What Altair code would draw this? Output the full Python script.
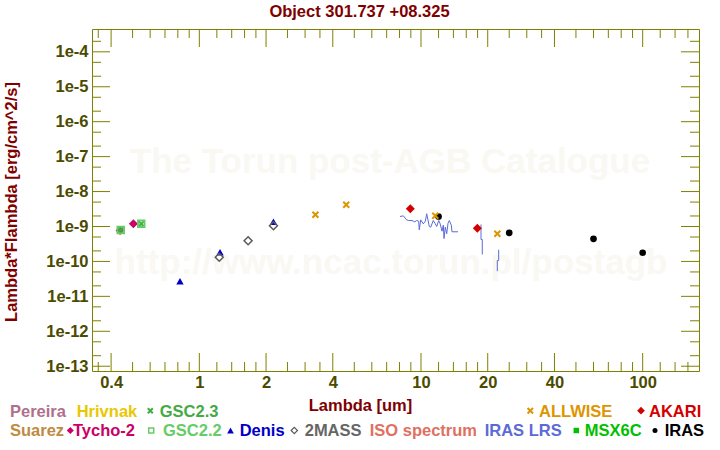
import altair as alt
import pandas as pd

# ---------------- data ----------------
tycho_lam = [0.439, 0.504]
tycho_flux = [7.7e-10, 1.19e-9]
gsc23_lam = [0.442, 0.547]
gsc23_flux = [7.9e-10, 1.19e-9]
gsc22_lam = [0.442, 0.547]
gsc22_flux = [7.9e-10, 1.19e-9]
denis_lam = [0.818, 1.24, 2.16]
denis_flux = [2.72e-11, 1.84e-10, 1.36e-9]
twomass_lam = [1.23, 1.66, 2.16]
twomass_flux = [1.32e-10, 3.89e-10, 1.05e-9]
allwise_lam = [3.34, 4.6, 11.6, 22.1]
allwise_flux = [2.16e-9, 4.18e-9, 2.02e-9, 6.18e-10]
akari_lam = [8.95, 17.95]
akari_flux = [3.21e-9, 8.95e-10]
iras_lam = [12.0, 25.0, 60.0, 100.0]
iras_flux = [1.93e-9, 6.6e-10, 4.44e-10, 1.77e-10]

lrs_lam = [8.04, 8.32, 8.62, 8.80, 9.11, 9.37, 9.56, 9.76, 9.82, 9.97, 10.24, 10.46,
           10.61, 10.75, 10.90, 11.06, 11.21, 11.36, 11.60, 11.77, 12.02, 12.18, 12.44,
           12.61, 12.70, 12.87, 13.06, 13.24, 13.42, 13.70, 13.80, 14.69,
           18.65, 18.65, 18.9, 18.9,
           22.41, 22.41, 22.09, 22.09]
lrs_flux = [1.93e-9, 2.02e-9, 1.55e-9, 1.48e-9, 1.48e-9, 1.36e-9, 1.48e-9, 1.42e-9, 8.04e-10,
            1.55e-9, 1.19e-9, 1.42e-9, 2.31e-9, 1.55e-9, 1.0e-9, 9.55e-10, 1.19e-9, 1.48e-9,
            1.19e-9, 1.0e-9, 1.48e-9, 1.24e-9, 7.33e-10, 1.09e-9, 4.53e-10, 9.55e-10, 6.18e-10,
            1.24e-9, 1.48e-9, 1.09e-9, 7.05e-10, 7.05e-10,
            1.14e-9, 4.24e-10, 4.24e-10, 1.58e-10,
            2.15e-10, 1.06e-10, 1.06e-10, 5.25e-11]
lrs_seg = [1] * 32 + [2] * 4 + [3] * 4

x_major = [0.4, 1, 2, 4, 10, 20, 40, 100]
x_minor = [0.35, 0.5, 0.6, 0.7, 0.8, 0.9, 1.2, 1.4, 1.6, 1.8, 2.5, 3, 3.5,
           5, 6, 7, 8, 9, 12, 14, 16, 18, 25, 30, 35, 50, 60, 70, 80, 90, 120, 140, 160]
y_major = [1e-4, 1e-5, 1e-6, 1e-7, 1e-8, 1e-9, 1e-10, 1e-11, 1e-12, 1e-13]
y_minor = [2e-4, 5e-5, 2e-5, 5e-6, 2e-6, 5e-7, 2e-7, 5e-8, 2e-8, 5e-9, 2e-9,
           5e-10, 2e-10, 5e-11, 2e-11, 5e-12, 2e-12, 5e-13, 2e-13]

# ---------------- style ----------------
FONT = "Liberation Sans"
FS = 16.5
OLIVE = "#808000"
LABC = "#4b4b00"
DRED = "#800000"
W, H = 607, 342
PL, PT = 92, 29
XPATH = "M-1,-1L1,1M-1,1L1,-1"

xscale = alt.Scale(type="log", domain=[0.328, 179.5], nice=False)
yscale = alt.Scale(type="log", domain=[7.3e-14, 4.5e-4], nice=False)

xaxis = alt.Axis(values=x_major, format="~g", ticks=False, tickSize=0, domain=False, grid=False,
                 labelFont=FONT, labelFontSize=FS, labelFontWeight="bold", labelColor=LABC,
                 labelPadding=3, labelFlush=False, labelOverlap=False,
                 title="Lambda [um]", titleFont=FONT, titleFontSize=FS, titleFontWeight="bold",
                 titleColor=DRED, titleX=360 - PL, titleY=39, titleAlign="center",
                 titleBaseline="alphabetic")
yaxis = alt.Axis(values=y_major, labelExpr="'1e' + round(log(datum.value)/LN10)",
                 ticks=False, tickSize=0, domain=False, grid=False,
                 labelFont=FONT, labelFontSize=FS, labelFontWeight="bold", labelColor=LABC,
                 labelPadding=4, labelFlush=False, labelOverlap=False, labelBaseline="middle",
                 title="Lambda*Flambda [erg/cm^2/s]", titleFont=FONT, titleFontSize=FS,
                 titleFontWeight="bold", titleColor=DRED, titleX=16.5 - PL, titleY=201.5 - PT,
                 titleAngle=270, titleAlign="center", titleBaseline="alphabetic")


def X():
    return alt.X("lam:Q", scale=xscale, axis=xaxis)


def Y():
    return alt.Y("flux:Q", scale=yscale, axis=yaxis)


dummy = pd.DataFrame({"a": [0]})


def txt(s, ax, ay, color, size=FS, align="left", baseline="alphabetic"):
    return alt.Chart(dummy).mark_text(
        text=s, font=FONT, fontSize=size, fontWeight="bold", color=color,
        align=align, baseline=baseline
    ).encode(x=alt.value(ax - PL), y=alt.value(ay - PT))


def sym(ax, ay, **mk):
    return alt.Chart(dummy).mark_point(opacity=1, **mk).encode(
        x=alt.value(ax - PL), y=alt.value(ay - PT))


def pts(lam, flux, **mk):
    df = pd.DataFrame({"lam": lam, "flux": flux})
    return alt.Chart(df).mark_point(opacity=1, **mk).encode(x=X(), y=Y())


layers = []

# watermark
layers.append(txt("The Torun post-AGB Catalogue", 390, 173, "#f9f8f3", size=35, align="center"))
layers.append(txt("http://www.ncac.torun.pl/postagb", 391, 274, "#f9f8f3", size=35, align="center"))

# inner ticks
dxM = pd.DataFrame({"lam": x_major})
dxm = pd.DataFrame({"lam": x_minor})
dyM = pd.DataFrame({"flux": y_major})
dym = pd.DataFrame({"flux": y_minor})
for d, L in [(dxM, 18), (dxm, 9)]:
    layers.append(alt.Chart(d).mark_rule(color=OLIVE, strokeWidth=1).encode(
        x=X(), y=alt.value(H), y2=alt.value(H - L)))
    layers.append(alt.Chart(d).mark_rule(color=OLIVE, strokeWidth=1).encode(
        x=X(), y=alt.value(0), y2=alt.value(L)))
for d, L in [(dyM, 18), (dym, 9)]:
    layers.append(alt.Chart(d).mark_rule(color=OLIVE, strokeWidth=1).encode(
        y=Y(), x=alt.value(0), x2=alt.value(L)))
    layers.append(alt.Chart(d).mark_rule(color=OLIVE, strokeWidth=1).encode(
        y=Y(), x=alt.value(W), x2=alt.value(W - L)))

# data
LRSC = "#5b6bd6"
lrs = pd.DataFrame({"lam": lrs_lam, "flux": lrs_flux, "seg": lrs_seg,
                    "idx": list(range(len(lrs_lam)))})
layers.append(alt.Chart(lrs).mark_line(color=LRSC, strokeWidth=1).encode(
    x=X(), y=Y(), detail="seg:N", order="idx:Q"))
layers.append(pts(tycho_lam, tycho_flux, shape="diamond", filled=True, color="#cc0066", size=81))
layers.append(pts(gsc23_lam, gsc23_flux, shape=XPATH, filled=False, color="#44aa44",
                  strokeWidth=2, size=36))
layers.append(pts(gsc22_lam, gsc22_flux, shape="square", filled=False, color="#66cc66",
                  strokeWidth=2, size=42))
layers.append(pts(denis_lam, denis_flux, shape="triangle-up", filled=True, color="#0000c8", size=55))
layers.append(pts(twomass_lam, twomass_flux, shape="diamond", filled=False, color="#5a5a5a",
                  strokeWidth=1.5, size=64))
layers.append(pts(akari_lam, akari_flux, shape="diamond", filled=True, color="#d40000", size=81))
layers.append(pts(iras_lam, iras_flux, shape="circle", filled=True, color="#000000", size=45))
layers.append(pts(allwise_lam, allwise_flux, shape=XPATH, filled=False, color="#dd9500",
                  strokeWidth=2, size=36))

# title
layers.append(txt("Object 301.737 +08.325", 359.5, 17.3, DRED, align="center"))

# legend
B1, C1 = 416.7, 410.7
B2, C2 = 436.3, 430.5
layers += [
    txt("Pereira", 10, B1, "#b0708c"),
    txt("Hrivnak", 76.7, B1, "#e8c800"),
    sym(150.3, C1, shape=XPATH, filled=False, color="#44aa44", strokeWidth=2, size=25),
    txt("GSC2.3", 159.7, B1, "#44aa44"),
    sym(530.3, C1, shape=XPATH, filled=False, color="#dd9500", strokeWidth=2, size=30),
    txt("ALLWISE", 539, B1, "#dd9500"),
    sym(641, C1, shape="diamond", filled=True, color="#d40000", size=60),
    txt("AKARI", 649, B1, "#d40000"),
    txt("Suarez", 10, B2, "#c08a40"),
    sym(70.3, C2, shape="diamond", filled=True, color="#cc0066", size=50),
    txt("Tycho-2", 73, B2, "#cc0066"),
    sym(151.2, C2, shape="square", filled=False, color="#66cc66", strokeWidth=1.5, size=25),
    txt("GSC2.2", 163, B2, "#66cc66"),
    sym(230.5, C2, shape="triangle-up", filled=True, color="#0000c8", size=45),
    txt("Denis", 239.7, B2, "#0000c8"),
    sym(294.3, C2, shape="diamond", filled=False, color="#5a5a5a", strokeWidth=1.2, size=40),
    txt("2MASS", 304.7, B2, "#666666"),
    txt("ISO spectrum", 369.7, B2, "#e07060"),
    txt("IRAS LRS", 484.7, B2, LRSC),
    sym(576.3, C2, shape="square", filled=True, color="#00c000", size=30),
    txt("MSX6C", 584.7, B2, "#00c000"),
    sym(655, C2, shape="circle", filled=True, color="#000000", size=25),
    txt("IRAS", 664.7, B2, "#000000"),
]

chart = alt.layer(*layers).properties(
    width=W, height=H,
    padding={"left": PL, "top": PT, "right": 720 - PL - W, "bottom": 450 - PT - H},
    autosize=alt.AutoSizeParams(type="none"),
    background="white",
).configure_view(stroke=OLIVE, strokeWidth=1)

chart.save("out.html", embed_options={"renderer": "svg", "actions": False})
